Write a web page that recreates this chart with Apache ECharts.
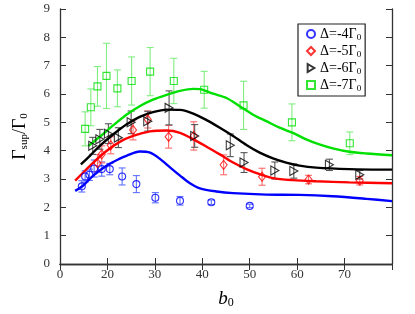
<!DOCTYPE html>
<html lang="en">
<head>
<meta charset="UTF-8" />
<title>Gamma sup vs b0</title>
<style>
  * { margin: 0; padding: 0; box-sizing: border-box; }
  #chart { width: 415px; height: 314px; background: #fff; }
</style>
</head>
<body>
<div id="chart"></div>
<script src="https://cdn.jsdelivr.net/npm/echarts@6/dist/echarts.min.js"></script>
<script>
// measured points (b0, Gamma_sup/Gamma_0, half error)
var names = ['Δ=-4Γ0', 'Δ=-5Γ0', 'Δ=-6Γ0', 'Δ=-7Γ0'];
var colors = ['#0000ff', '#ff0000', '#000000', '#00e000'];
var barColors = ['#6070ff', '#ff6a6a', '#555555', '#80ee80'];

var x4 = [14.6, 15.3, 16.2, 17.2, 18.8, 20.5, 23.1, 26.1, 30.1, 35.3, 41.9, 50.0];
var y4 = [2.74, 3.09, 3.15, 3.37, 3.35, 3.35, 3.09, 2.82, 2.34, 2.23, 2.18, 2.05];
var e4 = [0.2, 0.2, 0.2, 0.3, 0.25, 0.2, 0.3, 0.3, 0.18, 0.15, 0.08, 0.06];

var x5 = [17.9, 18.8, 20.7, 25.4, 28.5, 32.9, 38.2, 44.5, 52.6, 62.4, 73.2];
var y5 = [3.56, 3.87, 4.19, 4.73, 5.1, 4.49, 4.52, 3.5, 3.08, 2.98, 2.94];
var e5 = [0.3, 0.3, 0.3, 0.35, 0.3, 0.4, 0.5, 0.35, 0.3, 0.15, 0.15];

var x6 = [16.9, 18.4, 20.2, 22.3, 25.0, 28.5, 33.0, 38.4, 45.9, 48.8, 55.3, 59.3, 66.8, 73.2];
var y6 = [4.17, 4.40, 4.60, 4.46, 5.00, 5.04, 5.51, 4.52, 4.19, 3.58, 3.30, 3.28, 3.50, 3.15];
var e6 = [0.3, 0.35, 0.35, 0.35, 0.4, 0.35, 0.6, 0.4, 0.4, 0.35, 0.3, 0.25, 0.2, 0.15];

var x7 = [15.3, 16.5, 17.9, 19.8, 22.1, 25.1, 29.0, 34.0, 40.4, 48.7, 58.9, 71.1];
var y7 = [4.77, 5.53, 6.27, 6.64, 6.20, 6.46, 6.79, 6.46, 6.15, 5.60, 5.00, 4.26];
var e7 = [0.6, 0.65, 0.7, 1.15, 0.65, 0.85, 0.85, 0.8, 0.65, 0.85, 0.65, 0.4];

// theory curves
var lx4 = [13.2, 14.9, 17, 19.8, 22.6, 24, 26.8, 29, 31, 33.2, 35.3, 37.4, 39.5, 43, 46.5, 53.5, 60.5, 67.5, 74.6, 80];
var ly4 = [2.58, 2.77, 3.12, 3.47, 3.72, 3.82, 3.97, 3.93, 3.72, 3.41, 3.12, 2.85, 2.67, 2.56, 2.50, 2.45, 2.44, 2.39, 2.30, 2.22];

var lx5 = [13.2, 14.9, 17, 19.8, 22.6, 25.4, 29, 32.5, 35.3, 38.1, 40.9, 43.7, 46.5, 49.3, 52.1, 54.9, 59.1, 64, 71, 80];
var ly5 = [2.94, 3.23, 3.58, 3.99, 4.31, 4.52, 4.68, 4.71, 4.63, 4.40, 4.14, 3.87, 3.58, 3.35, 3.17, 3.03, 2.96, 2.92, 2.88, 2.85];

var lx6 = [14.4, 16.3, 18.4, 21.2, 24, 26.8, 29.6, 32.5, 35.3, 38.1, 40.9, 43.7, 46.5, 49.3, 52.1, 54.9, 57.7, 60.5, 64, 71, 80];
var ly6 = [3.52, 3.82, 4.17, 4.57, 4.92, 5.19, 5.36, 5.45, 5.44, 5.31, 5.08, 4.81, 4.52, 4.20, 3.93, 3.73, 3.58, 3.47, 3.40, 3.35, 3.33];

var lx7 = [16, 18.4, 21.2, 24, 26.8, 29.6, 32.5, 35.3, 38.1, 39.5, 42.3, 45.1, 47.9, 50.7, 53.5, 56.3, 59.1, 61.9, 64.7, 67.5, 71, 74.6, 80];
var ly7 = [4.17, 4.49, 4.89, 5.27, 5.57, 5.80, 5.97, 6.11, 6.18, 6.17, 6.01, 5.86, 5.57, 5.27, 5.04, 4.81, 4.63, 4.40, 4.22, 4.08, 3.96, 3.90, 3.84];

var xs = [x4, x5, x6, x7], ys = [y4, y5, y6, y7], es = [e4, e5, e6, e7];
var lxs = [lx4, lx5, lx6, lx7], lys = [ly4, ly5, ly6, ly7];
var symbols = ['circle', 'diamond', 'path://M0,0L10,6L0,12Z', 'rect'];
var sizes = [[7, 7], [7, 9], [8, 9], [7, 7]];

var serif = '"Liberation Serif", "DejaVu Serif", serif';
var axisColor = '#333';

function zip(a, b) { return a.map(function (v, i) { return [v, b[i]]; }); }

function errBar(color) {
  return function (params, api) {
    var x = api.value(0);
    var top = api.coord([x, api.value(2)]);
    var bot = api.coord([x, api.value(1)]);
    var w = 3.5;
    var st = { stroke: color, lineWidth: 1.1 };
    return {
      type: 'group',
      children: [
        { type: 'line', shape: { x1: top[0], y1: top[1], x2: bot[0], y2: bot[1] }, style: st },
        { type: 'line', shape: { x1: top[0] - w, y1: top[1], x2: top[0] + w, y2: top[1] }, style: st },
        { type: 'line', shape: { x1: bot[0] - w, y1: bot[1], x2: bot[0] + w, y2: bot[1] }, style: st }
      ]
    };
  };
}

var series = [];
for (var i = 0; i < 4; i++) {
  series.push({
    type: 'custom',
    silent: true,
    renderItem: errBar(barColors[i]),
    data: xs[i].map(function (v, j) { return [v, ys[i][j] - es[i][j], ys[i][j] + es[i][j]]; }),
    z: 1
  });
}
for (var i = 0; i < 4; i++) {
  series.push({
    type: 'line',
    data: zip(lxs[i], lys[i]),
    smooth: 0.3,
    showSymbol: false,
    lineStyle: { color: colors[i], width: 2.4 },
    z: 3
  });
}
for (var i = 0; i < 4; i++) {
  series.push({
    name: names[i],
    type: 'scatter',
    data: zip(xs[i], ys[i]),
    symbol: symbols[i],
    symbolSize: sizes[i],
    itemStyle: { color: 'rgba(255,255,255,0)', borderColor: colors[i], borderWidth: 1.1 },
    z: 4
  });
}

var chart = echarts.init(document.getElementById('chart'));
chart.setOption({
  animation: false,
  backgroundColor: '#fff',
  grid: { left: 60, right: 23, top: 9, bottom: 48 },
  legend: {
    orient: 'vertical',
    left: 298,
    top: 24,
    width: 68,
    padding: [3, 4, 3, 8],
    itemGap: 2,
    itemWidth: 8,
    itemHeight: 8,
    borderColor: '#222',
    borderWidth: 1.2,
    data: names.map(function (n, i) {
      return { name: n, icon: symbols[i] };
    }),
    formatter: function (n) { return n.slice(0, -1) + '{s|0}'; },
    textStyle: {
      fontFamily: serif, fontSize: 14, color: '#000',
      rich: { s: { fontFamily: serif, fontSize: 9, color: '#000', padding: [7, 0, 0, 0] } }
    }
  },
  xAxis: [{
    type: 'value', min: 10, max: 80, interval: 10,
    name: '{i|b}{s|0}', nameLocation: 'middle', nameGap: 24,
    nameTextStyle: {
      rich: {
        i: { fontFamily: serif, fontStyle: 'italic', fontSize: 19, color: '#000' },
        s: { fontFamily: serif, fontSize: 12, color: '#000', padding: [9, 0, 0, 0] }
      }
    },
    axisLine: { lineStyle: { color: axisColor, width: 1.3 } },
    axisTick: { inside: true, length: 6, lineStyle: { color: axisColor } },
    splitLine: { show: false },
    axisLabel: {
      fontFamily: serif, fontSize: 13, color: '#333', margin: 4,
      formatter: function (v) { return v === 10 ? '0' : (v === 80 ? '' : String(v)); }
    }
  }, {
    type: 'value', min: 10, max: 80, interval: 10, position: 'top',
    axisLine: { show: true, lineStyle: { color: axisColor, width: 1.3 } },
    axisTick: { inside: true, length: 6, lineStyle: { color: axisColor } },
    axisLabel: { show: false },
    splitLine: { show: false }
  }],
  yAxis: [{
    type: 'value', min: 0, max: 9, interval: 1,
    name: 'Γ{s|sup}/Γ{s|0}', nameLocation: 'middle', nameGap: 30, nameRotate: 90,
    nameTextStyle: {
      fontFamily: serif, fontSize: 18, color: '#000',
      rich: { s: { fontFamily: serif, fontSize: 11, color: '#000', padding: [8, 0, 0, 0] } }
    },
    axisLine: { show: true, lineStyle: { color: axisColor, width: 1.3 } },
    axisTick: { inside: true, length: 6, lineStyle: { color: axisColor } },
    splitLine: { show: false },
    axisLabel: { fontFamily: serif, fontSize: 13, color: '#333', margin: 10 }
  }, {
    type: 'value', min: 0, max: 9, interval: 1, position: 'right',
    axisLine: { show: true, lineStyle: { color: axisColor, width: 1.3 } },
    axisTick: { inside: true, length: 6, lineStyle: { color: axisColor } },
    axisLabel: { show: false },
    splitLine: { show: false }
  }],
  series: series
});
</script>
</body>
</html>
